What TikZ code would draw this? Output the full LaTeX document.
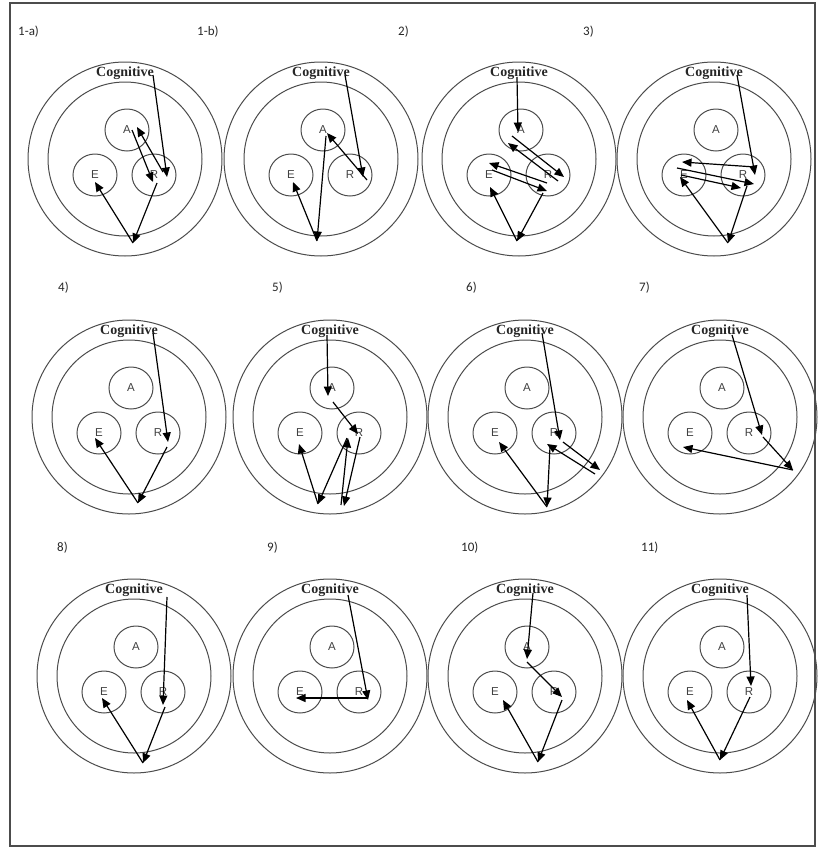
\documentclass[tikz,border=0pt]{standalone}
\usepackage{fontspec}
\setmainfont{Liberation Serif}
\newfontfamily\lblfont{Carlito}
\newfontfamily\letfont{Liberation Sans}
\usetikzlibrary{arrows.meta,shapes.geometric}
\newcommand\panel[6]{%
  \draw[ring] (#2,#3) circle[radius=97pt];
  \draw[ring] (#2,#3) circle[radius=77pt];
  \node[sub] (#1-A) at (#2+2,#3-29) {A};
  \node[sub] (#1-E) at (#2-30,#3+16) {E};
  \node[sub] (#1-R) at (#2+29,#3+16) {R};
  \node[cog] (#1-cog) at (#2,#3-86) {Cognitive};
  \node[plabel] (#1-lbl) at (#5,#6) {#4};
}
\newcommand\pt[3]{\coordinate (#1) at (#2,#3);}
\begin{document}
\begin{tikzpicture}[x=1pt,y=-1pt,
  ring/.style={draw=black!70, line width=1pt},
  sub/.style={draw=black!70, line width=1pt, ellipse, minimum width=44pt, minimum height=42pt, inner sep=0pt, font=\letfont\fontsize{11.5}{11.5}\selectfont, text=black!75},
  cog/.style={font=\bfseries\fontsize{14}{14}\selectfont, inner sep=0pt, text=black!85},
  plabel/.style={font=\lblfont\fontsize{13}{13}\selectfont, anchor=west, inner sep=0pt, text=black!85},
  arr/.style={-{Triangle[length=9.5pt,width=8pt]}, line width=1.2pt, black},
]
\useasboundingbox (0,0) rectangle (817,849);
\draw[line width=1.5pt, black!70] (10,3) rectangle (815,846);

% ---------- row 1 ----------
\panel{p1a}{125}{159}{1-a)}{18}{32}
\pt{p1a-c1}{153}{75}\pt{p1a-r1}{167}{177}
\pt{p1a-r2}{163}{172}\pt{p1a-a1}{137}{127}
\pt{p1a-a2}{132}{130}\pt{p1a-r3}{153}{182}
\pt{p1a-r4}{157}{183}\pt{p1a-b}{133}{243}\pt{p1a-e}{95}{182}
\draw[arr] (p1a-c1) -- (p1a-r1);
\draw[arr] (p1a-r2) -- (p1a-a1);
\draw[arr] (p1a-a2) -- (p1a-r3);
\draw[arr] (p1a-r4) -- (p1a-b);
\draw[arr] (p1a-b) -- (p1a-e);

\panel{p1b}{321}{159}{1-b)}{197}{32}
\pt{p1b-c1}{345}{75}\pt{p1b-r1}{363}{177}
\pt{p1b-r2}{367}{180}\pt{p1b-a1}{327}{133}
\pt{p1b-a2}{326}{136}\pt{p1b-b}{317}{241}\pt{p1b-e}{293}{182}
\draw[arr] (p1b-c1) -- (p1b-r1);
\draw[arr] (p1b-r2) -- (p1b-a1);
\draw[arr] (p1b-a2) -- (p1b-b);
\draw[arr] (p1b-b) -- (p1b-e);

\panel{p2}{519}{159}{2)}{398}{32}
\pt{p2-c1}{517}{77}\pt{p2-a1}{518}{132}
\pt{p2-a2}{512}{136}\pt{p2-r1}{564}{177}
\pt{p2-r2}{558}{181}\pt{p2-a3}{508}{143}
\pt{p2-r3}{547}{183}\pt{p2-e1}{489}{163}
\pt{p2-e2}{492}{170}\pt{p2-r4}{547}{191}
\pt{p2-r5}{543}{193}\pt{p2-b}{517}{241}\pt{p2-e3}{490}{187}
\draw[arr] (p2-c1) -- (p2-a1);
\draw[arr] (p2-a2) -- (p2-r1);
\draw[arr] (p2-r2) -- (p2-a3);
\draw[arr] (p2-r3) -- (p2-e1);
\draw[arr] (p2-e2) -- (p2-r4);
\draw[arr] (p2-r5) -- (p2-b);
\draw[arr] (p2-b) -- (p2-e3);

\panel{p3}{714}{159}{3)}{583}{32}
\pt{p3-c1}{737}{75}\pt{p3-r1}{755}{175}
\pt{p3-r2}{755}{167}\pt{p3-e1}{682}{162}
\pt{p3-e2}{677}{168}\pt{p3-r3}{754}{184}
\pt{p3-e3}{681}{175}\pt{p3-r4}{741}{188}
\pt{p3-r5}{747}{186}\pt{p3-b}{728}{243}\pt{p3-e4}{680}{177}
\draw[arr] (p3-c1) -- (p3-r1);
\draw[arr] (p3-r2) -- (p3-e1);
\draw[arr] (p3-e2) -- (p3-r3);
\draw[arr] (p3-e3) -- (p3-r4);
\draw[arr] (p3-r5) -- (p3-b);
\draw[arr] (p3-b) -- (p3-e4);

% ---------- row 2 ----------
\panel{p4}{129}{417}{4)}{58}{288}
\pt{p4-c1}{153}{333}\pt{p4-r1}{168}{442}
\pt{p4-r2}{167}{447}\pt{p4-b}{138}{503}\pt{p4-e}{95}{438}
\draw[arr] (p4-c1) -- (p4-r1);
\draw[arr] (p4-r2) -- (p4-b);
\draw[arr] (p4-b) -- (p4-e);

\panel{p5}{330}{417}{5)}{272}{288}
\pt{p5-c1}{327}{335}\pt{p5-a1}{328}{396}
\pt{p5-a2}{333}{402}\pt{p5-r1}{358}{434}
\pt{p5-r2}{347}{438}\pt{p5-b1}{318}{504}\pt{p5-e}{299}{444}
\pt{p5-b2}{341}{505}\pt{p5-r3}{348}{438}
\pt{p5-r4}{360}{437}\pt{p5-b3}{344}{506}
\draw[arr] (p5-c1) -- (p5-a1);
\draw[arr] (p5-a2) -- (p5-r1);
\draw[arr] (p5-r2) -- (p5-b1);
\draw[arr] (p5-b1) -- (p5-e);
\draw[arr] (p5-b2) -- (p5-r3);
\draw[arr] (p5-r4) -- (p5-b3);

\panel{p6}{525}{417}{6)}{466}{288}
\pt{p6-c1}{542}{333}\pt{p6-r1}{560}{440}
\pt{p6-r2}{563}{442}\pt{p6-p1}{600}{470}
\pt{p6-p2}{595}{474}\pt{p6-r3}{547}{444}
\pt{p6-r4}{550}{447}\pt{p6-b}{547}{507}\pt{p6-e}{499}{442}
\draw[arr] (p6-c1) -- (p6-r1);
\draw[arr] (p6-r2) -- (p6-p1);
\draw[arr] (p6-p2) -- (p6-r3);
\draw[arr] (p6-r4) -- (p6-b);
\draw[arr] (p6-b) -- (p6-e);

\panel{p7}{720}{417}{7)}{639}{288}
\pt{p7-c1}{732}{335}\pt{p7-r1}{762}{435}
\pt{p7-r2}{763}{437}\pt{p7-p}{793}{470}\pt{p7-e}{683}{447}
\draw[arr] (p7-c1) -- (p7-r1);
\draw[arr] (p7-r2) -- (p7-p);
\draw[arr] (p7-p) -- (p7-e);

% ---------- row 3 ----------
\panel{p8}{134}{676}{8)}{57}{548}
\pt{p8-c1}{167}{597}\pt{p8-r1}{163}{705}
\pt{p8-r2}{165}{707}\pt{p8-b}{143}{763}\pt{p8-e}{102}{698}
\draw[arr] (p8-c1) -- (p8-r1);
\draw[arr] (p8-r2) -- (p8-b);
\draw[arr] (p8-b) -- (p8-e);

\panel{p9}{330}{676}{9)}{267}{548}
\pt{p9-c1}{348}{595}\pt{p9-r1}{368}{700}
\pt{p9-r2}{367}{698}\pt{p9-e}{296}{698}
\draw[arr] (p9-c1) -- (p9-r1);
\draw[arr] (p9-r2) -- (p9-e);

\panel{p10}{525}{676}{10)}{461}{548}
\pt{p10-c1}{533}{593}\pt{p10-a1}{527}{659}
\pt{p10-a2}{527}{662}\pt{p10-r1}{562}{697}
\pt{p10-r2}{562}{700}\pt{p10-b}{538}{762}\pt{p10-e}{503}{700}
\draw[arr] (p10-c1) -- (p10-a1);
\draw[arr] (p10-a2) -- (p10-r1);
\draw[arr] (p10-r2) -- (p10-b);
\draw[arr] (p10-b) -- (p10-e);

\panel{p11}{720}{676}{11)}{641}{548}
\pt{p11-c1}{747}{595}\pt{p11-r1}{751}{686}
\pt{p11-r2}{750}{697}\pt{p11-b}{720}{760}\pt{p11-e}{687}{700}
\draw[arr] (p11-c1) -- (p11-r1);
\draw[arr] (p11-r2) -- (p11-b);
\draw[arr] (p11-b) -- (p11-e);
\end{tikzpicture}
\end{document}
